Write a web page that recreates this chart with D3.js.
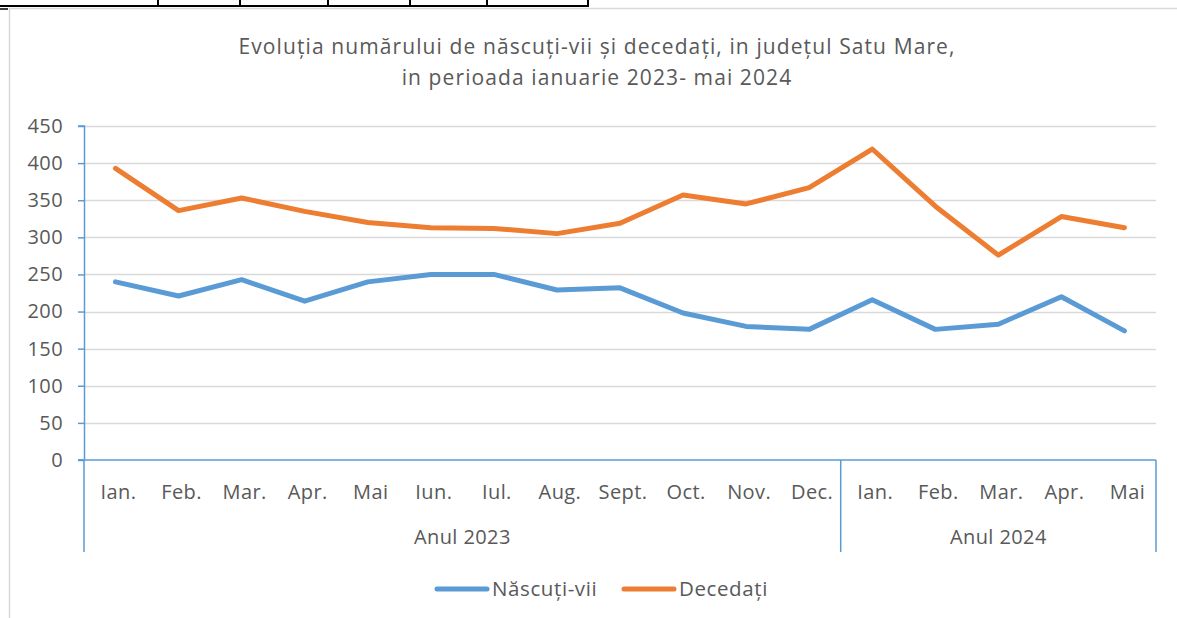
<!DOCTYPE html>
<html>
<head>
<meta charset="utf-8">
<script src="https://cdn.jsdelivr.net/npm/d3@7"></script>
<style>
  body { margin: 0; background: #fff; }
  svg { display: block; font-family: "Open Sans", Lato, sans-serif; }
  .lbl { font-size: 20px; letter-spacing: 0.4px; }
</style>
</head>
<body>
<div id="chart"></div>
<script>
//Datos
const luni = ['Ian.','Feb.','Mar.','Apr.','Mai','Iun.','Iul.','Aug.','Sept.','Oct.','Nov.','Dec.','Ian.','Feb.','Mar.','Apr.','Mai'];
const ani = ['Anul 2023', 'Anul 2024'];
const luniPeAn = [12, 5];
const nascuti = [240, 221, 243, 214, 240, 250, 250, 229, 232, 198, 180, 176, 216, 176, 183, 220, 174];
const decedati = [393, 336, 353, 335, 320, 313, 312, 305, 319, 357, 345, 367, 419, 342, 276, 328, 313];
const yTicks = [0, 50, 100, 150, 200, 250, 300, 350, 400, 450];
const serii = ['Născuți-vii', 'Decedați'];

//Colores
const COLOR_BLUE = '#5B9BD5', COLOR_ORANGE = '#ED7D31', COLOR_GRID = '#D9D9D9', COLOR_TEXT = '#595959';
const FONT = '"Open Sans", Lato, sans-serif';

const W = 1177, H = 618;
const margin = {top: 126, right: 21, bottom: 158, left: 84};
const width = W - margin.left - margin.right,
      height = H - margin.top - margin.bottom;

const svg = d3.select('#chart').append('svg')
    .attr('width', W).attr('height', H);

//Tabla de arriba (recorte del documento)
const tabla = svg.append('g');
tabla.append('line').attr('x1', 0).attr('x2', 588).attr('y1', 6).attr('y2', 6)
    .attr('stroke', '#000').attr('stroke-width', 2);
[158, 240, 328, 410, 487, 588].forEach(function(x) {
    tabla.append('line').attr('x1', x).attr('x2', x).attr('y1', 0).attr('y2', 7)
        .attr('stroke', '#000').attr('stroke-width', 2);
});
tabla.append('line').attr('x1', 0).attr('x2', 8).attr('y1', 9).attr('y2', 9)
    .attr('stroke', '#000').attr('stroke-width', 1.5);

//Marco del gráfico
svg.append('path').attr('d', 'M9.5,618 V8.5 H1177')
    .attr('fill', 'none').attr('stroke', '#D9D9D9').attr('stroke-width', 1.5);

//Título
const title = svg.append('text').attr('text-anchor', 'middle')
    .attr('fill', COLOR_TEXT).style('font-size', '21px').style('letter-spacing', '1.1px');
title.append('tspan').attr('x', 597).attr('y', 54)
    .text('Evoluția numărului de născuți-vii și decedați, in județul Satu Mare,');
title.append('tspan').attr('x', 597).attr('y', 85)
    .text('in perioada ianuarie 2023- mai 2024');

const g = svg.append('g')
    .attr('transform', 'translate(' + margin.left + ',' + margin.top + ')');

let x = d3.scaleBand().domain(d3.range(luni.length)).range([0, width]);
let y = d3.scaleLinear().domain([0, 450]).range([height, 0]);

//Rejilla
g.append('g').selectAll('line')
    .data(yTicks.filter(function(d) { return d > 0; }))
    .enter().append('line')
    .attr('x1', 0).attr('x2', width)
    .attr('y1', function(d) { return Math.round(y(d)) + 0.5; })
    .attr('y2', function(d) { return Math.round(y(d)) + 0.5; })
    .attr('stroke', COLOR_GRID).attr('stroke-width', 1.5);

//Eje Y
let yAxis = g.append('g')
    .call(d3.axisLeft(y).tickValues(yTicks).tickSize(6).tickPadding(15));
yAxis.selectAll('path, line').attr('stroke', COLOR_BLUE).attr('stroke-width', 1.5);
yAxis.select('.domain').attr('d', 'M-6,' + height + 'H0.5V0H-6');
yAxis.selectAll('text').attr('fill', COLOR_TEXT).attr('class', 'lbl')
    .style('font-family', FONT).attr('font-size', null);

//Eje X con categorías en dos niveles
let xAxis = g.append('g').attr('transform', 'translate(0,' + height + ')');
xAxis.append('line').attr('x1', -6).attr('x2', width).attr('y1', 0).attr('y2', 0)
    .attr('stroke', COLOR_BLUE).attr('stroke-width', 1.5);

let bounds = [0];
luniPeAn.forEach(function(n) { bounds.push(bounds[bounds.length - 1] + n); });
bounds.forEach(function(b) {
    let xb = b < luni.length ? x(b) : width;
    xAxis.append('line').attr('x1', xb).attr('x2', xb).attr('y1', 0).attr('y2', 92)
        .attr('stroke', COLOR_BLUE).attr('stroke-width', 1.5);
});

xAxis.selectAll('.luna').data(luni).enter().append('text')
    .attr('class', 'luna lbl')
    .attr('x', function(d, i) { return x(i) + x.bandwidth() / 2 + 3; })
    .attr('y', 39)
    .attr('text-anchor', 'middle').attr('fill', COLOR_TEXT)
    .text(function(d) { return d; });

xAxis.selectAll('.an').data(ani).enter().append('text')
    .attr('class', 'an lbl')
    .attr('x', function(d, i) {
        let x0 = x(bounds[i]);
        let x1 = bounds[i + 1] < luni.length ? x(bounds[i + 1]) : width;
        return (x0 + x1) / 2;
    })
    .attr('y', 84)
    .attr('text-anchor', 'middle').attr('fill', COLOR_TEXT)
    .text(function(d) { return d; });

//Líneas
let line = d3.line()
    .x(function(d, i) { return x(i) + x.bandwidth() / 2; })
    .y(function(d) { return y(d); });

[[nascuti, COLOR_BLUE], [decedati, COLOR_ORANGE]].forEach(function(s) {
    g.append('path').datum(s[0])
        .attr('d', line)
        .attr('fill', 'none')
        .attr('stroke', s[1])
        .attr('stroke-width', 5)
        .attr('stroke-linejoin', 'round')
        .attr('stroke-linecap', 'round');
});

//Leyenda
let legend = svg.append('g');
let legendX = [435, 622];
serii.forEach(function(name, i) {
    let c = i === 0 ? COLOR_BLUE : COLOR_ORANGE;
    legend.append('line')
        .attr('x1', legendX[i] + 2).attr('x2', legendX[i] + 52)
        .attr('y1', 589).attr('y2', 589)
        .attr('stroke', c).attr('stroke-width', 5).attr('stroke-linecap', 'round');
    legend.append('text')
        .attr('x', legendX[i] + 57).attr('y', 596)
        .attr('fill', COLOR_TEXT).style('font-size', '20.5px').style('letter-spacing', '0.6px')
        .text(name);
});
</script>
</body>
</html>
